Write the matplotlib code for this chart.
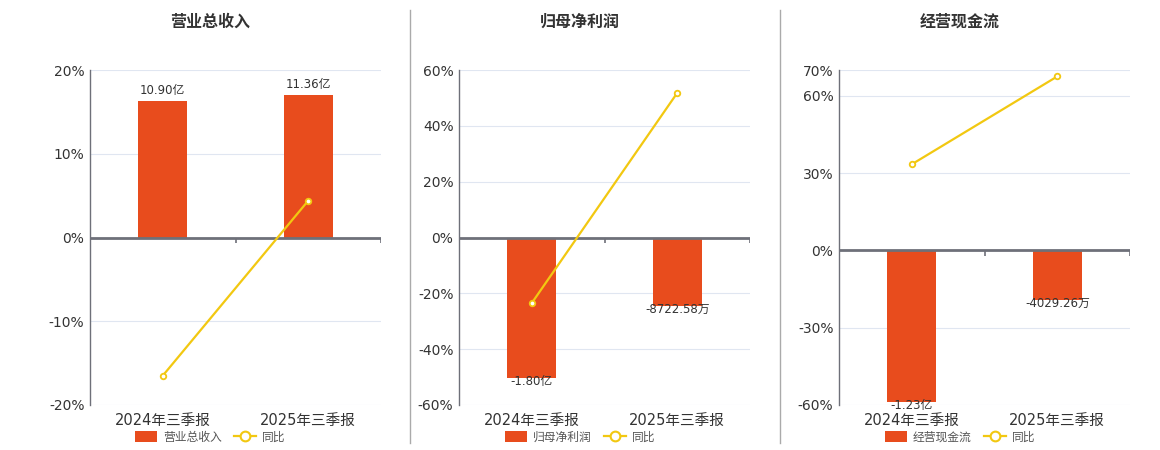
import matplotlib.pyplot as plt
from matplotlib.patches import Patch
from matplotlib.lines import Line2D
import matplotlib.transforms as mtransforms

plt.rcParams['font.family'] = ['DejaVu Sans', 'Noto Sans CJK SC']

categories = ['2024年三季报', '2025年三季报']

titles = ['营业总收入', '归母净利润', '经营现金流']
bar_names = ['营业总收入', '归母净利润', '经营现金流']

# bar values in 亿
bar_values = [
    [10.90, 11.36],
    [-1.80, -0.872258],
    [-1.23, -0.402926],
]
bar_labels = [
    ['10.90亿', '11.36亿'],
    ['-1.80亿', '-8722.58万'],
    ['-1.23亿', '-4029.26万'],
]

# 同比 in %
yoy_values = [
    [-16.5, 4.4],
    [-23.5, 51.8],
    [33.4, 67.5],
]

pct_ticks = [
    [-20, -10, 0, 10, 20],
    [-60, -40, -20, 0, 20, 40, 60],
    [-60, -30, 0, 30, 60, 70],
]
pct_lims = [(-20, 20), (-60, 60), (-60, 70)]
bar_lims = [(-13.35, 13.35), (-2.145, 2.145), (-1.257, 1.46)]

BAR_COLOR = '#E84C1D'
LINE_COLOR = '#F2C811'
TEXT_COLOR = '#333333'
GRID_COLOR = '#E0E6F1'
AXIS_COLOR = '#6E7079'

fig = plt.figure(figsize=(11.6, 4.5), dpi=100)

lefts = [90, 459, 839]
centers = [210, 580, 960]
ax_w = 291
bottom_px, top_px = 405, 70

for i in range(3):
    # base axes: grid, ticks, spine
    ax = fig.add_axes([lefts[i] / 1160, 1 - bottom_px / 450, ax_w / 1160, (bottom_px - top_px) / 450])
    # bars on a hidden twin
    ax_bar = ax.twinx()
    # line and zero axis on top
    ax_line = ax.twinx()
    ax.set_zorder(1)
    ax_bar.set_zorder(2)
    ax_line.set_zorder(3)
    ax_bar.patch.set_visible(False)
    ax_line.patch.set_visible(False)

    x = list(range(len(categories)))
    for a in (ax, ax_bar, ax_line):
        a.set_xlim(-0.5, len(categories) - 0.5)

    ax_bar.bar(x, bar_values[i], width=0.34, color=BAR_COLOR)
    ax_bar.set_ylim(*bar_lims[i])
    ax_bar.axis('off')
    for xi, v, lab in zip(x, bar_values[i], bar_labels[i]):
        if v >= 0:
            ax_bar.annotate(lab, (xi, v), xytext=(0, 3), textcoords='offset points',
                            ha='center', va='bottom', fontsize=8.5, color=TEXT_COLOR)
        else:
            ax_bar.annotate(lab, (xi, v), xytext=(0, 2), textcoords='offset points',
                            ha='center', va='top', fontsize=8.5, color=TEXT_COLOR)

    ax.set_ylim(*pct_lims[i])
    ax.set_yticks(pct_ticks[i])
    ax.set_yticklabels([f'{t}%' for t in pct_ticks[i]], fontsize=10, color=TEXT_COLOR)
    ax.yaxis.grid(True, color=GRID_COLOR, lw=0.8)
    ax.tick_params(axis='y', length=0, pad=4)
    ax.set_xticks(x)
    ax.set_xticklabels(categories, fontsize=10.5, color=TEXT_COLOR)
    ax.tick_params(axis='x', length=0, pad=5.5)
    for s in ['top', 'right', 'bottom']:
        ax.spines[s].set_visible(False)
    ax.spines['left'].set_color(AXIS_COLOR)
    ax.spines['left'].set_linewidth(1)

    ax_line.set_ylim(*pct_lims[i])
    ax_line.axis('off')
    ax_line.axhline(0, color=AXIS_COLOR, lw=2)
    ymin, ymax = pct_lims[i]
    z = (0 - ymin) / (ymax - ymin)
    trans = mtransforms.blended_transform_factory(ax_line.transData, ax_line.transAxes)
    ax_line.vlines([0.5, 1.5], z - 0.016, z, transform=trans, color=AXIS_COLOR, lw=1.2)
    ax_line.plot(x, yoy_values[i], color=LINE_COLOR, lw=1.6, marker='o', markersize=4,
                 markerfacecolor='white', markeredgecolor=LINE_COLOR, markeredgewidth=1.3)

    fig.text(centers[i] / 1160, 1 - 22 / 450, titles[i], ha='center', va='center',
             fontsize=11.5, fontweight='bold', color=TEXT_COLOR)

    handles = [
        Patch(facecolor=BAR_COLOR, edgecolor='none', label=bar_names[i]),
        Line2D([0], [0], color=LINE_COLOR, lw=1.6, marker='o', markersize=7,
               markerfacecolor='white', markeredgecolor=LINE_COLOR, markeredgewidth=1.5, label='同比'),
    ]
    fig.legend(handles=handles, loc='center', bbox_to_anchor=(centers[i] / 1160, 1 - 437 / 450),
               ncol=2, frameon=False, fontsize=8.5, handlelength=1.9, handleheight=1.0,
               columnspacing=1.0, handletextpad=0.5, labelcolor='#555555')

for xd in [410, 780]:
    fig.add_artist(Line2D([xd / 1160, xd / 1160], [1 - 443 / 450, 1 - 10 / 450],
                          color='#AAAAAA', lw=1))

fig.savefig('out.png', dpi=100)
